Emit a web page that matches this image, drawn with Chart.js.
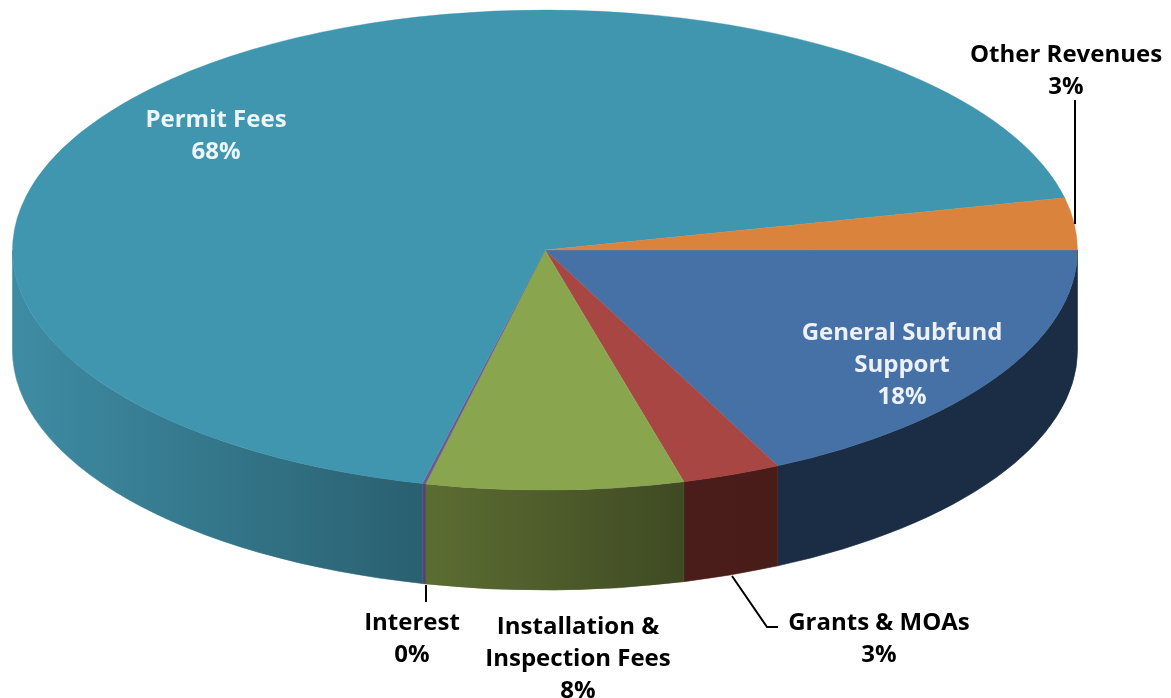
<!DOCTYPE html>
<html>
<head>
<meta charset="utf-8">
<script src="https://cdn.jsdelivr.net/npm/chart.js@4/dist/chart.umd.min.js"></script>
<style>
html,body{margin:0;padding:0;background:#fff;overflow:hidden}
canvas{display:block}
</style>
</head>
<body>
<canvas id="c" width="1171" height="698"></canvas>
<script>
const categories = ['General Subfund Support','Grants & MOAs','Installation & Inspection Fees','Interest','Permit Fees','Other Revenues'];
const values = [17.8, 3.0, 7.8, 0.1, 67.81, 3.49];
const topColors = ['#4571A6','#A74643','#89A54E','#71588F','#4096AF','#DA833D'];
const wallLeft = ['#1B2D44','#4A1D1A','#5C6D32','#5B4A78','#3E8CA4','#DA833D'];
const wallRight = ['#1B2D44','#481C19','#3F4A23','#4F4068','#2A6070','#DA833D'];

// Placement of the drawing on the page
const pie = {cx:545, cy:250, rx:532.5, ry:240, depth:100, r:300};
const textPlace = [
  {lines:['General Subfund','Support'], x:902, y:333, color:'#EDF1F6'},
  {lines:['Grants & MOAs'], x:879, y:623, color:'#000'},
  {lines:['Installation &','Inspection Fees'], x:578, y:627, color:'#000'},
  {lines:['Interest'], x:412, y:623, color:'#000'},
  {lines:['Permit Fees'], x:216, y:120, color:'#EDF5F8'},
  {lines:['Other Revenues'], x:1066, y:55, color:'#000'}
];
const leaders = [
  [[1075,100],[1075,224]],
  [[426,585],[426,602]],
  [[732,576],[767,627],[778,627]]
];

const TAU = Math.PI*2;
function frontRanges(a,b){
  // returns parts of [a,b] lying on the near half of the pie (0..PI, canvas angles)
  const out=[];
  for(let k=-2;k<=2;k++){
    const lo=Math.max(a,k*TAU), hi=Math.min(b,k*TAU+Math.PI);
    if(hi>lo) out.push([lo,hi]);
  }
  return out;
}
const pie3d = {
  id:'pie3d',
  beforeDatasetsDraw(chart){
    const ctx=chart.ctx, arcs=chart.getDatasetMeta(0).data;
    // side wall
    arcs.forEach((el,i)=>{
      frontRanges(el.startAngle,el.endAngle).forEach(([a,b])=>{
        const x0=pie.cx+pie.rx*Math.cos(b), x1=pie.cx+pie.rx*Math.cos(a);
        const g=ctx.createLinearGradient(x0,0,x1,0);
        g.addColorStop(0,wallLeft[i]); g.addColorStop(1,wallRight[i]);
        ctx.beginPath();
        ctx.ellipse(pie.cx,pie.cy,pie.rx,pie.ry,0,a,b,false);
        ctx.ellipse(pie.cx,pie.cy+pie.depth,pie.rx,pie.ry,0,b,a,true);
        ctx.closePath();
        ctx.fillStyle=g; ctx.strokeStyle=g; ctx.lineWidth=0.6;
        ctx.fill(); ctx.stroke();
      });
    });
    // squash the library's round pie into the tilted top face
    const el=arcs[0];
    ctx.save();
    ctx.translate(pie.cx,pie.cy);
    ctx.scale(pie.rx/pie.r,pie.ry/pie.r);
    ctx.translate(-el.x,-el.y);
  },
  afterDatasetsDraw(chart){
    const ctx=chart.ctx;
    ctx.restore();
    // leader lines
    ctx.strokeStyle='#000'; ctx.lineWidth=2; ctx.lineJoin='miter';
    leaders.forEach(pts=>{
      ctx.beginPath();
      pts.forEach((p,i)=>i?ctx.lineTo(p[0],p[1]):ctx.moveTo(p[0],p[1]));
      ctx.stroke();
    });
    // labels
    ctx.font='bold 24px "Open Sans"';
    ctx.textAlign='center'; ctx.textBaseline='middle';
    textPlace.forEach((t,i)=>{
      ctx.fillStyle=t.color;
      const lines=t.lines.concat([Math.round(values[i])+'%']);
      lines.forEach((s,j)=>ctx.fillText(s,t.x,t.y+j*32));
    });
  }
};
new Chart(document.getElementById('c'),{
  type:'pie',
  data:{labels:categories,datasets:[{data:values,backgroundColor:topColors,borderColor:topColors,borderWidth:0.3,radius:pie.r}]},
  options:{
    responsive:false,animation:false,rotation:90,
    layout:{padding:0},
    plugins:{legend:{display:false},tooltip:{enabled:false}}
  },
  plugins:[pie3d]
});
</script>
</body>
</html>
